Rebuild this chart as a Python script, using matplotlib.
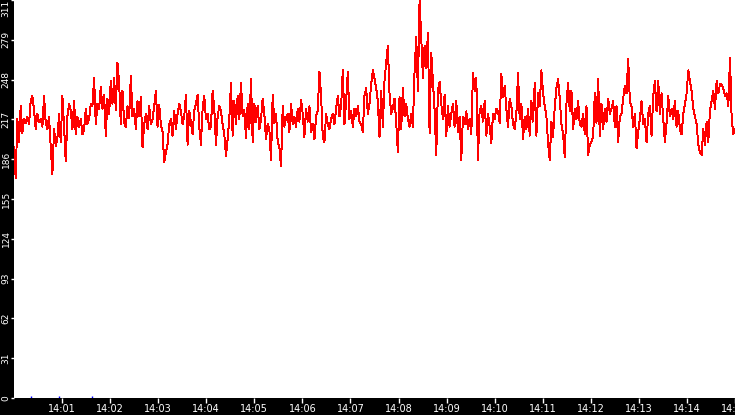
#!/usr/bin/env python3
import numpy as np
import matplotlib
matplotlib.use("Agg")
import matplotlib.pyplot as plt

# red series (roughly every 2 s from 14:00:00 to 14:15:00)
red_a = [196, 172, 218, 200,
         228, 207, 218, 215, 220, 214, 232, 236, 225, 210, 222, 216,
         218, 212, 236, 215, 210, 220, 196, 175, 210, 197, 203, 222,
         200, 236, 212, 185, 220, 230, 225, 210, 232, 206, 220, 212,
         218, 206, 210, 226, 214, 218, 230, 228, 250, 214, 230, 226,
         243, 226, 237, 205, 234, 222, 248, 230, 250, 225, 262, 246,
         214, 240, 215, 212, 228, 219, 252, 220, 226, 210, 232, 220,
         235, 196, 214, 222, 210, 228, 214, 218, 228, 240, 212, 229,
         214, 208, 184, 192, 198, 214, 218, 205, 224, 210, 222, 230,
         224, 214, 220, 237, 198, 224, 216, 206, 225, 230, 237, 212]
red_b = [198, 226, 236, 218, 222, 210, 212, 240, 226, 198, 220, 228,
         224, 214, 206, 189, 202, 218, 246, 205, 232, 214, 236, 218,
         246, 220, 225, 203, 230, 210, 249, 200, 230, 216, 228, 210,
         218, 234, 222, 202, 214, 210, 186, 237, 215, 222, 200, 196,
         181, 228, 212, 219, 222, 208, 230, 214, 220, 212, 226, 216,
         233, 222, 204, 226, 216, 228, 208, 214, 202, 220, 225, 255,
         236, 204, 200, 222, 214, 210, 218, 222, 214, 226, 236, 220,
         228, 256, 214, 232, 255, 218, 224, 212, 226, 220, 228, 216,
         214, 208, 236, 242, 222, 230]
red_c = [245, 256, 250, 242, 232, 204, 240, 212, 248, 262, 275, 238,
         222, 226, 234, 215, 192, 235, 210, 242, 220, 230, 218, 212,
         222, 212, 255, 282, 240, 311, 282, 250, 275, 258, 285, 207,
         270, 248, 225, 190, 240, 247, 230, 218, 237, 205, 228, 212,
         222, 230, 212, 232, 208, 220, 186, 220, 214, 224, 210, 218,
         206, 254, 240, 250, 186, 225, 228, 216, 232, 205, 222, 212,
         199, 222, 218, 226, 224, 215, 253, 235, 244, 226, 212, 234,
         228, 214, 210, 222, 254, 218, 230, 202, 220, 210, 226, 205,
         232, 216, 246, 205, 238, 228, 256, 238, 228, 220, 199, 186]
red_d = [216, 204, 228, 242, 249, 234, 214, 206, 188, 230, 246, 224,
         240, 210, 226, 218, 232, 214, 212, 222, 206, 228, 190, 198,
         200, 204, 238, 215, 249, 205, 230, 210, 226, 216, 234, 222,
         226, 232, 212, 228, 200, 220, 222, 234, 244, 238, 265, 232,
         228, 212, 222, 195, 208, 218, 232, 214, 218, 200, 222, 228,
         205, 236, 248, 224, 248, 222, 238, 218, 200, 215, 236, 220,
         226, 218, 232, 212, 224, 210, 206, 222, 230, 238, 256, 248,
         240, 226, 220, 214, 198, 192, 190, 210, 198, 216, 200, 225,
         232, 240, 226, 248, 238, 245, 245, 242, 236, 238, 228, 266,
         218, 206, 210]
red = np.array(red_a + red_b + red_c + red_d, dtype=float)

# small blue blips near zero (seconds after 14:00, value)
blue_sec = [21, 56, 97]
blue_val = [1.5, 1.5, 1.5]

ymax = 311
yticks = [ymax * i / 10 for i in range(11)]
xticks = list(range(1, 16))
xlabels = ["14:%02d" % m for m in xticks]

W, H = 735, 415
fig = plt.figure(figsize=(W / 100, H / 100), dpi=100, facecolor="black")
ax = fig.add_axes([14 / W, 17 / H, 721 / W, 398 / H])
ax.set_facecolor("white")

t = np.linspace(0, 15, len(red))
ax.plot(t, red, color="#ff0000", lw=0.7, antialiased=False)
ax.vlines(np.array(blue_sec) / 60.0, 0, blue_val, color="#0000ff", lw=1.0)

ax.set_xlim(0, 15)
ax.set_ylim(0, ymax)
ax.set_yticks(yticks)
ylabs = ax.set_yticklabels([str(int(v)) for v in yticks], rotation=90, va="center")
ylabs[-1].set_va("top")   # keep the top label inside the figure
ax.set_xticks(xticks)
ax.set_xticklabels(xlabels)

for s in ax.spines.values():
    s.set_visible(False)
ax.tick_params(axis="x", colors="white", direction="out", length=3.5,
               width=1, labelsize=7, pad=1)
ax.tick_params(axis="y", colors="white", direction="out", length=2.5,
               width=1, labelsize=6.5, pad=0)

fig.savefig("out.png", dpi=100, facecolor="black")
